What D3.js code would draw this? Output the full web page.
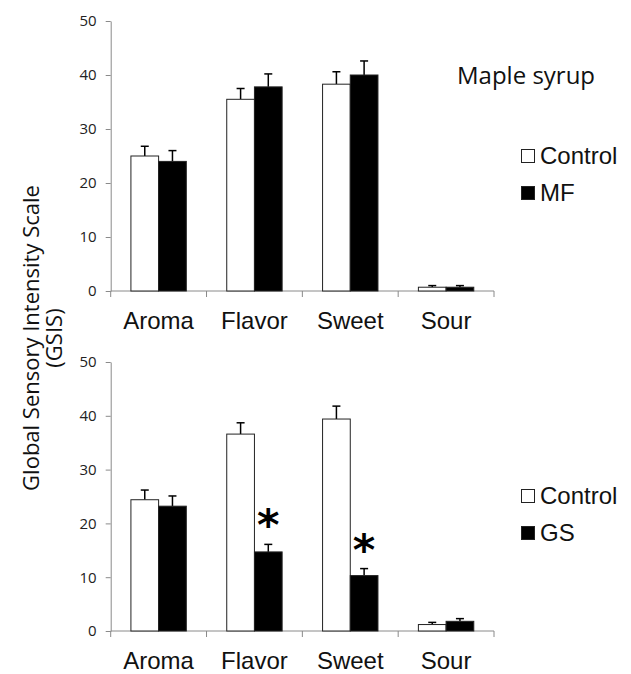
<!DOCTYPE html>
<html><head><meta charset="utf-8">
<script src="https://cdn.jsdelivr.net/npm/d3@7"></script>
<style>
body{margin:0;background:#fff}svg{display:block}
.arial{font-family:"Liberation Sans", Arial, Helvetica, sans-serif}
.calib{font-family:"Open Sans", sans-serif}
.star{font-family:"DejaVu Sans", sans-serif;font-weight:bold}
</style>
</head><body>
<svg id="c" width="631" height="674"></svg>
<script>
const categories = ["Aroma","Flavor","Sweet","Sour"];
const yTicks = [0,10,20,30,40,50];
// Top panel: Maple syrup
const topSeries = ["Control","MF"];
const topControl = [25.0, 35.5, 38.3, 0.7];
const topControlErr = [1.8, 2.0, 2.3, 0.3];
const topMF = [24.0, 37.8, 40.0, 0.7];
const topMFErr = [2.0, 2.4, 2.6, 0.3];
// Bottom panel
const botSeries = ["Control","GS"];
const botControl = [24.4, 36.6, 39.4, 1.2];
const botControlErr = [1.8, 2.1, 2.4, 0.4];
const botGS = [23.2, 14.7, 10.3, 1.8];
const botGSErr = [1.9, 1.4, 1.3, 0.5];
const botSignif = [false, true, true, false];
const panelTitle = "Maple syrup";
const yTitle1 = "Global Sensory Intensity Scale";
const yTitle2 = "(GSIS)";

const svg = d3.select("#c");
const axisColor = "#8a8a8a";
const x0 = d3.scaleBand().domain(categories).range([110.7, 494]).paddingInner(0).paddingOuter(0);
const x1 = d3.scaleBand().domain([0,1]).range([0, x0.bandwidth()]).paddingInner(0).paddingOuter(0.73);
const fills = ["#ffffff","#000000"];

function panel(yRange, series, vals, errs, signif, legendY, title) {
  const y = d3.scaleLinear().domain([0,50]).range(yRange);
  const g = svg.append("g");
  const ya = g.append("g").attr("transform", `translate(${x0.range()[0]},0)`)
    .call(d3.axisLeft(y).tickValues(yTicks).tickSize(5).tickPadding(9).tickSizeOuter(0));
  ya.selectAll("path,line").attr("stroke", axisColor);
  ya.selectAll("text").attr("class","calib").attr("font-size",15).attr("fill","#222");
  const y0 = y(0);
  g.append("line").attr("x1", x0.range()[0]).attr("x2", x0.range()[1]).attr("y1", y0).attr("y2", y0).attr("stroke", axisColor);
  const bounds = categories.map(c => x0(c)).concat([x0.range()[1]]);
  g.selectAll(".bt").data(bounds).join("line").attr("x1", d=>d).attr("x2", d=>d)
    .attr("y1", y0).attr("y2", y0+6).attr("stroke", axisColor);
  g.selectAll(".cl").data(categories).join("text").attr("class","arial")
    .attr("x", d => x0(d) + x0.bandwidth()/2).attr("y", y0 + 38)
    .attr("text-anchor","middle").attr("font-size",24).attr("fill","#111")
    .text(d=>d);
  const data = [];
  categories.forEach((c,i) => vals.forEach((arr,s) => data.push({c, s, v: arr[i], e: errs[s][i], i})));
  g.selectAll(".eb").data(data).join("g").each(function(d){
    const cx = x0(d.c) + x1(d.s) + x1.bandwidth()/2;
    const sel = d3.select(this);
    sel.append("line").attr("x1",cx).attr("x2",cx).attr("y1",y(d.v)).attr("y2",y(d.v+d.e)).attr("stroke","#000").attr("stroke-width",1.5);
    sel.append("line").attr("x1",cx-4).attr("x2",cx+4).attr("y1",y(d.v+d.e)).attr("y2",y(d.v+d.e)).attr("stroke","#000").attr("stroke-width",1.5);
  });
  g.selectAll(".bar").data(data).join("rect")
    .attr("x", d => x0(d.c) + x1(d.s)).attr("width", x1.bandwidth())
    .attr("y", d => y(d.v)).attr("height", d => y0 - y(d.v))
    .attr("fill", d => fills[d.s]).attr("stroke","#222").attr("stroke-width",1);
  if (signif) {
    g.selectAll(".st").data(data.filter(d => d.s===1 && signif[d.i])).join("text").attr("class","star")
      .attr("x", d => x0(d.c) + x1(d.s) + x1.bandwidth()/2)
      .attr("y", d => y(d.v + d.e) - 4)
      .attr("text-anchor","middle").attr("font-size",43).attr("fill","#000")
      .text("*");
  }
  series.forEach((s,k) => {
    const ly = legendY + k*37;
    g.append("rect").attr("x",521.5).attr("y",ly).attr("width",13).attr("height",13)
      .attr("fill",fills[k]).attr("stroke","#222").attr("stroke-width",1);
    g.append("text").attr("class","arial").attr("x",540).attr("y",ly+14).attr("font-size",24).attr("fill","#111").text(s);
  });
  if (title) {
    g.append("text").attr("class","calib").attr("x",457).attr("y",84).attr("font-size",24).attr("fill","#111").text(title);
  }
}
panel([291, 21], topSeries, [topControl, topMF], [topControlErr, topMFErr], null, 149.5, panelTitle);
panel([631, 362], botSeries, [botControl, botGS], [botControlErr, botGSErr], botSignif, 489.5, null);

const yt = svg.append("g").attr("transform","translate(0,338) rotate(-90)");
yt.append("text").attr("class","calib").attr("x",0).attr("y",39).attr("text-anchor","middle").attr("font-size",22).attr("fill","#111").text(yTitle1);
yt.append("text").attr("class","calib").attr("x",0).attr("y",62).attr("text-anchor","middle").attr("font-size",22).attr("fill","#111").text(yTitle2);
</script>
</body></html>
